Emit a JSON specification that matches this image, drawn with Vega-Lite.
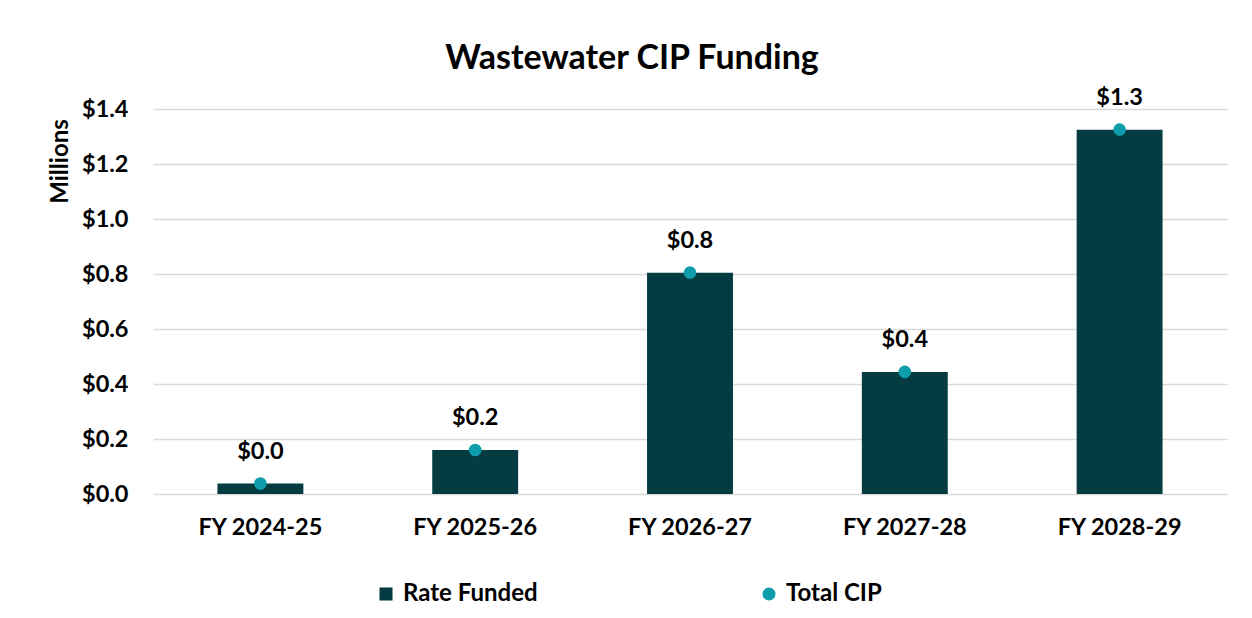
{
  "$schema": "https://vega.github.io/schema/vega-lite/v6.json",
  "width": 1074,
  "height": 385,
  "autosize": {"type": "none"},
  "padding": {"left": 153, "top": 109, "right": 25, "bottom": 124},
  "background": "white",
  "title": {
    "text": "Wastewater CIP Funding",
    "font": "Lato",
    "fontSize": 34,
    "fontWeight": "bold",
    "color": "#000000",
    "anchor": "middle",
    "dx": -58,
    "dy": 49,
    "baseline": "alphabetic",
    "offset": 32
  },
  "data": {
    "values": [
      {"year": "FY 2024-25", "rate": 0.038, "total": 0.038},
      {"year": "FY 2025-26", "rate": 0.160, "total": 0.160},
      {"year": "FY 2026-27", "rate": 0.805, "total": 0.805},
      {"year": "FY 2027-28", "rate": 0.444, "total": 0.444},
      {"year": "FY 2028-29", "rate": 1.325, "total": 1.325}
    ]
  },
  "encoding": {
    "x": {
      "field": "year",
      "type": "nominal",
      "sort": null,
      "scale": {"paddingInner": 0, "paddingOuter": 0},
      "axis": {
        "title": null,
        "labelAngle": 0,
        "labelFont": "Lato",
        "labelFontSize": 23.5,
        "labelFontWeight": "bold",
        "labelColor": "#000000",
        "labelPadding": 21,
        "ticks": false,
        "domain": false,
        "grid": false
      }
    }
  },
  "layer": [
    {
      "mark": {"type": "bar", "width": {"band": 0.4}},
      "encoding": {
        "y": {
          "field": "rate",
          "type": "quantitative",
          "scale": {"domain": [0, 1.4], "nice": false},
          "axis": {
            "values": [0, 0.2, 0.4, 0.6, 0.8, 1.0, 1.2, 1.4],
            "format": "$.1f",
            "title": "Millions",
            "titleFont": "Lato",
            "titleFontSize": 24,
            "titleFontWeight": "bold",
            "titleColor": "#000000",
            "titleAngle": -90,
            "titleX": -93,
            "titleY": 52,
            "titleAlign": "center",
            "titleBaseline": "middle",
            "labelFont": "Lato",
            "labelFontSize": 23.5,
            "labelFontWeight": "bold",
            "labelColor": "#000000",
            "labelPadding": 25,
            "ticks": false,
            "domain": false,
            "grid": true,
            "gridColor": "#d9d9d9",
            "gridWidth": 1.5
          }
        },
        "color": {
          "datum": "Rate Funded",
          "type": "nominal",
          "scale": {"domain": ["Rate Funded", "Total CIP"], "range": ["#043c42", "#0f9dab"]},
          "legend": {
            "title": null,
            "orient": "none",
            "legendX": 221,
            "legendY": 473,
            "direction": "horizontal",
            "columns": 2,
            "columnPadding": 219,
            "labelFont": "Lato",
            "labelFontSize": 24,
            "labelFontWeight": "bold",
            "labelColor": "#000000",
            "labelOffset": 5,
            "symbolSize": 170,
            "padding": 0,
            "encode": {
              "symbols": {
                "update": {
                  "shape": {"signal": "datum.label === 'Rate Funded' ? 'square' : 'circle'"}
                }
              }
            }
          }
        }
      }
    },
    {
      "mark": {"type": "point", "filled": true, "size": 160, "opacity": 1, "shape": "circle"},
      "encoding": {
        "y": {"field": "total", "type": "quantitative"},
        "color": {"datum": "Total CIP", "type": "nominal"}
      }
    },
    {
      "mark": {
        "type": "text",
        "font": "Lato",
        "fontSize": 23.5,
        "fontWeight": "bold",
        "color": "#000000",
        "baseline": "alphabetic",
        "dy": -25
      },
      "encoding": {
        "y": {"field": "total", "type": "quantitative"},
        "text": {"field": "total", "type": "quantitative", "format": "$.1f"}
      }
    }
  ],
  "config": {
    "view": {"stroke": null}
  }
}
